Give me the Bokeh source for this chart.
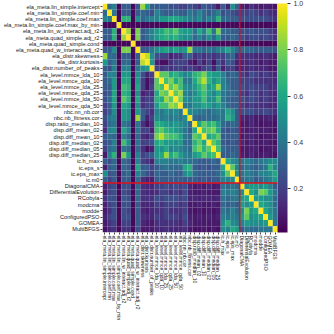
import numpy as np
from bokeh.plotting import figure
from bokeh.models import (ColumnDataSource, LinearColorMapper, ColorBar, FixedTicker,
                          Range1d, Span, PrintfTickFormatter)
from bokeh.palettes import Viridis256
from bokeh.embed import file_html
from bokeh.resources import INLINE

labels = [
    "ela_meta.lin_simple.intercept", "ela_meta.lin_simple.coef.min", "ela_meta.lin_simple.coef.max",
    "ela_meta.lin_simple.coef.max_by_min", "ela_meta.lin_w_interact.adj_r2", "ela_meta.quad_simple.adj_r2",
    "ela_meta.quad_simple.cond", "ela_meta.quad_w_interact.adj_r2", "ela_distr.skewness",
    "ela_distr.kurtosis", "ela_distr.number_of_peaks", "ela_level.mmce_lda_10", "ela_level.mmce_qda_10",
    "ela_level.mmce_lda_25", "ela_level.mmce_qda_25", "ela_level.mmce_lda_50", "ela_level.mmce_qda_50",
    "nbc.nn_nb.cor", "nbc.nb_fitness.cor", "disp.ratio_median_10", "disp.diff_mean_02",
    "disp.diff_mean_10", "disp.diff_median_02", "disp.diff_median_05", "disp.diff_median_25",
    "ic.h_max", "ic.eps_s", "ic.eps_max", "ic.m0",
    "DiagonalCMA", "DifferentialEvolution", "RCobyla", "modcma", "modde",
    "ConfiguredPSO", "GOMEA", "MultiBFGS",
]
n_features = 29

# lower triangle of |correlation| matrix (row i holds columns 0..i)
corr_rows = [
    [1.0],
    [0.35, 1.0],
    [0.45, 0.40, 1.0],
    [0.03, 0.03, 0.03, 1.0],
    [0.30, 0.30, 0.65, 0.03, 1.0],
    [0.30, 0.30, 0.65, 0.03, 0.85, 1.0],
    [0.03, 0.04, 0.03, 0.02, 0.03, 0.03, 1.0],
    [0.28, 0.30, 0.50, 0.03, 0.80, 0.80, 0.03, 1.0],
    [0.85, 0.35, 0.35, 0.03, 0.30, 0.30, 0.03, 0.30, 1.0],
    [0.55, 0.30, 0.40, 0.03, 0.35, 0.35, 0.03, 0.30, 0.90, 1.0],
    [0.30, 0.25, 0.45, 0.03, 0.45, 0.45, 0.03, 0.40, 0.50, 0.55, 1.0],
    [0.30, 0.45, 0.45, 0.03, 0.55, 0.55, 0.03, 0.50, 0.25, 0.10, 0.20, 1.0],
    [0.30, 0.35, 0.55, 0.03, 0.60, 0.60, 0.03, 0.55, 0.20, 0.05, 0.15, 0.75, 1.0],
    [0.30, 0.30, 0.55, 0.03, 0.70, 0.65, 0.03, 0.60, 0.20, 0.05, 0.20, 0.75, 0.70, 1.0],
    [0.25, 0.30, 0.60, 0.03, 0.65, 0.60, 0.03, 0.50, 0.10, 0.15, 0.15, 0.60, 0.80, 0.75, 1.0],
    [0.25, 0.35, 0.60, 0.03, 0.75, 0.65, 0.03, 0.60, 0.15, 0.20, 0.20, 0.65, 0.60, 0.85, 0.75, 1.0],
    [0.20, 0.30, 0.55, 0.03, 0.60, 0.55, 0.03, 0.50, 0.15, 0.20, 0.20, 0.55, 0.70, 0.70, 0.85, 0.80, 1.0],
    [0.20, 0.30, 0.50, 0.03, 0.55, 0.50, 0.03, 0.55, 0.30, 0.20, 0.15, 0.45, 0.40, 0.50, 0.45, 0.50, 0.40, 1.0],
    [0.25, 0.40, 0.45, 0.03, 0.55, 0.50, 0.03, 0.85, 0.30, 0.10, 0.20, 0.50, 0.40, 0.45, 0.40, 0.45, 0.40, 0.50, 1.0],
    [0.20, 0.35, 0.40, 0.03, 0.40, 0.35, 0.03, 0.40, 0.15, 0.05, 0.15, 0.65, 0.60, 0.55, 0.50, 0.55, 0.50, 0.45, 0.35, 1.0],
    [0.15, 0.45, 0.50, 0.03, 0.60, 0.45, 0.03, 0.40, 0.20, 0.20, 0.10, 0.70, 0.75, 0.65, 0.60, 0.55, 0.50, 0.40, 0.30, 0.60, 1.0],
    [0.30, 0.35, 0.35, 0.03, 0.45, 0.35, 0.03, 0.35, 0.15, 0.10, 0.20, 0.80, 0.90, 0.75, 0.70, 0.70, 0.60, 0.40, 0.35, 0.75, 0.70, 1.0],
    [0.25, 0.30, 0.45, 0.03, 0.70, 0.50, 0.03, 0.40, 0.20, 0.20, 0.25, 0.60, 0.65, 0.55, 0.55, 0.50, 0.55, 0.35, 0.35, 0.65, 0.75, 0.60, 1.0],
    [0.20, 0.35, 0.40, 0.03, 0.40, 0.35, 0.03, 0.35, 0.15, 0.05, 0.10, 0.55, 0.50, 0.60, 0.45, 0.50, 0.45, 0.40, 0.35, 0.70, 0.80, 0.65, 0.75, 1.0],
    [0.08, 0.45, 0.65, 0.03, 0.80, 0.55, 0.03, 0.45, 0.20, 0.25, 0.30, 0.55, 0.60, 0.85, 0.60, 0.70, 0.55, 0.45, 0.40, 0.55, 0.60, 0.75, 0.65, 0.70, 1.0],
    [0.30, 0.25, 0.35, 0.03, 0.35, 0.30, 0.03, 0.45, 0.20, 0.15, 0.10, 0.45, 0.45, 0.45, 0.40, 0.40, 0.45, 0.40, 0.40, 0.35, 0.30, 0.30, 0.30, 0.35, 0.30, 1.0],
    [0.10, 0.30, 0.35, 0.03, 0.35, 0.30, 0.03, 0.60, 0.30, 0.30, 0.20, 0.30, 0.35, 0.40, 0.35, 0.35, 0.35, 0.60, 0.65, 0.30, 0.25, 0.30, 0.25, 0.30, 0.30, 0.60, 1.0],
    [0.50, 0.25, 0.30, 0.03, 0.30, 0.35, 0.03, 0.45, 0.35, 0.25, 0.20, 0.35, 0.30, 0.30, 0.35, 0.30, 0.30, 0.50, 0.55, 0.35, 0.30, 0.30, 0.30, 0.30, 0.35, 0.50, 0.75, 1.0],
    [0.30, 0.20, 0.30, 0.03, 0.30, 0.30, 0.03, 0.35, 0.15, 0.10, 0.10, 0.30, 0.30, 0.30, 0.30, 0.30, 0.30, 0.30, 0.30, 0.30, 0.25, 0.30, 0.25, 0.30, 0.30, 0.45, 0.45, 0.50, 1.0],
    [0.10, 0.20, 0.25, 0.03, 0.25, 0.25, 0.03, 0.35, 0.15, 0.12, 0.12, 0.20, 0.20, 0.25, 0.20, 0.25, 0.20, 0.25, 0.12, 0.08, 0.10, 0.08, 0.12, 0.08, 0.10, 0.40, 0.35, 0.40, 0.35, 1.0],
    [0.08, 0.20, 0.25, 0.03, 0.25, 0.20, 0.03, 0.35, 0.15, 0.12, 0.12, 0.15, 0.20, 0.20, 0.15, 0.20, 0.15, 0.25, 0.10, 0.08, 0.08, 0.10, 0.08, 0.08, 0.08, 0.45, 0.40, 0.45, 0.40, 0.50, 1.0],
    [0.15, 0.25, 0.25, 0.03, 0.30, 0.25, 0.03, 0.35, 0.15, 0.15, 0.15, 0.25, 0.20, 0.25, 0.25, 0.25, 0.20, 0.25, 0.12, 0.12, 0.10, 0.12, 0.12, 0.10, 0.12, 0.40, 0.35, 0.40, 0.40, 0.55, 0.60, 1.0],
    [0.10, 0.20, 0.25, 0.03, 0.25, 0.25, 0.03, 0.30, 0.12, 0.12, 0.12, 0.20, 0.15, 0.20, 0.20, 0.20, 0.15, 0.20, 0.08, 0.08, 0.10, 0.08, 0.08, 0.10, 0.08, 0.35, 0.30, 0.35, 0.30, 0.55, 0.50, 0.55, 1.0],
    [0.08, 0.15, 0.25, 0.03, 0.25, 0.20, 0.03, 0.30, 0.12, 0.08, 0.12, 0.15, 0.15, 0.20, 0.15, 0.15, 0.15, 0.20, 0.08, 0.06, 0.08, 0.06, 0.08, 0.06, 0.08, 0.40, 0.35, 0.45, 0.35, 0.50, 0.80, 0.55, 0.60, 1.0],
    [0.10, 0.20, 0.25, 0.03, 0.25, 0.25, 0.03, 0.30, 0.15, 0.12, 0.12, 0.20, 0.15, 0.20, 0.20, 0.20, 0.15, 0.25, 0.10, 0.08, 0.10, 0.08, 0.10, 0.08, 0.10, 0.45, 0.40, 0.45, 0.40, 0.55, 0.75, 0.50, 0.55, 0.60, 1.0],
    [0.08, 0.15, 0.20, 0.03, 0.20, 0.20, 0.03, 0.30, 0.12, 0.08, 0.08, 0.15, 0.15, 0.15, 0.15, 0.15, 0.12, 0.20, 0.12, 0.08, 0.08, 0.08, 0.08, 0.08, 0.08, 0.50, 0.65, 0.50, 0.45, 0.45, 0.55, 0.50, 0.50, 0.50, 0.55, 1.0],
    [0.06, 0.12, 0.15, 0.03, 0.15, 0.15, 0.03, 0.25, 0.08, 0.08, 0.08, 0.12, 0.12, 0.15, 0.12, 0.12, 0.12, 0.15, 0.08, 0.06, 0.06, 0.08, 0.06, 0.08, 0.06, 0.50, 0.45, 0.60, 0.55, 0.30, 0.40, 0.35, 0.35, 0.40, 0.40, 0.40, 1.0],
]
cbar_ticks = [0.2, 0.4, 0.6, 0.8, 1.0]
value_low, value_high = 0.01, 1.0

n = len(labels)
M = np.zeros((n, n))
for i, row in enumerate(corr_rows):
    for j, v in enumerate(row):
        M[i, j] = v
        M[j, i] = v

xs, ys, vals = [], [], []
for i in range(n):
    for j in range(n):
        xs.append(j)
        ys.append(i)
        vals.append(M[i, j])
src = ColumnDataSource(dict(x=xs, y=ys, v=vals))

mapper = LinearColorMapper(palette=Viridis256, low=value_low, high=value_high)

p = figure(frame_width=175, frame_height=229,
           x_range=Range1d(-0.5, n - 0.5), y_range=Range1d(n - 0.5, -0.5),
           output_backend="svg", toolbar_location=None,
           min_border_left=99, min_border_right=0, min_border_top=3, min_border_bottom=0)
p.rect(x="x", y="y", width=1, height=1, source=src,
       fill_color={"field": "v", "transform": mapper},
       line_color="white", line_alpha=0.03, line_width=0.5)

p.add_layout(Span(location=n_features - 0.5, dimension="height", line_color="#e3101c", line_width=1.5))
p.add_layout(Span(location=n_features - 0.5, dimension="width", line_color="#e3101c", line_width=1.5))

p.grid.visible = False
p.outline_line_color = None
overrides = {i: lab for i, lab in enumerate(labels)}
for ax, fs in ((p.xaxis, "5px"), (p.yaxis, "5.65px")):
    ax.ticker = FixedTicker(ticks=list(range(n)))
    ax.major_label_overrides = overrides
    ax.major_label_text_font = "Liberation Sans"
    ax.major_label_text_font_size = fs
    ax.major_label_text_color = "#222222"
    ax.axis_line_color = None
    ax.major_tick_line_color = "#444444"
    ax.major_tick_out = 2
    ax.major_tick_in = 0
    ax.minor_tick_line_color = None
    ax.major_label_standoff = 1
p.xaxis.major_label_orientation = "vertical"

cb = ColorBar(color_mapper=mapper, ticker=FixedTicker(ticks=cbar_ticks),
              formatter=PrintfTickFormatter(format="%.1f"),
              width=10, padding=0, margin=1,
              major_label_text_font="Liberation Sans", major_label_text_font_size="7px",
              major_label_text_color="#333333",
              major_tick_line_color="#333333", major_tick_in=0, major_tick_out=3,
              label_standoff=3, bar_line_color=None, border_line_color=None,
              background_fill_color=None)
p.add_layout(cb, "right")

open("out.html", "w").write(file_html(p, INLINE))
